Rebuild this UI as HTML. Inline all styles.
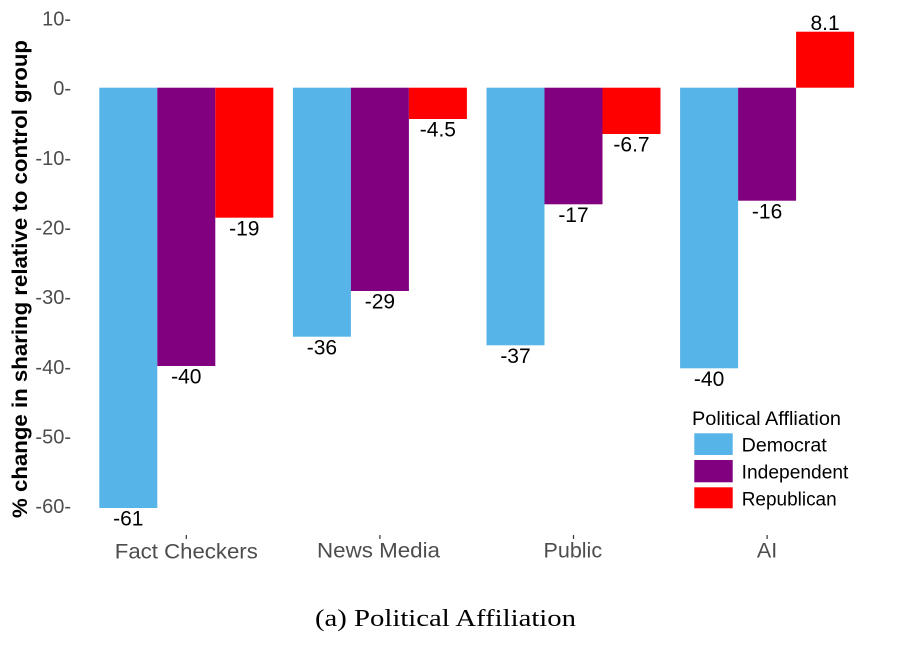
<!DOCTYPE html>
<html>
<head>
<meta charset="utf-8">
<style>
  html, body { margin: 0; padding: 0; background: #ffffff; }
  svg { display: block; }
</style>
</head>
<body>
<svg width="913" height="645" viewBox="0 0 913 645" xmlns="http://www.w3.org/2000/svg">
  <rect x="0" y="0" width="913" height="645" fill="#ffffff"/>

  <!-- Y axis title -->
  <text x="0" y="0" transform="translate(27,279) rotate(-90)" text-anchor="middle"
        font-family="Liberation Sans, Arial, sans-serif" font-weight="bold" font-size="21"
        fill="#000" textLength="478" lengthAdjust="spacingAndGlyphs">% change in sharing relative to control group</text>

  <!-- Y tick labels -->
  <g font-family="Liberation Sans, Arial, sans-serif" font-size="20" fill="#4d4d4d" text-anchor="end">
    <text x="71" y="25.5">10-</text>
    <text x="71" y="95.2">0-</text>
    <text x="71" y="164.9">-10-</text>
    <text x="71" y="234.5">-20-</text>
    <text x="71" y="304.2">-30-</text>
    <text x="71" y="373.9">-40-</text>
    <text x="71" y="443.5">-50-</text>
    <text x="71" y="513.2">-60-</text>
  </g>

  <!-- Bars -->
  <!-- Fact Checkers -->
  <rect x="99.3" y="87.7" width="58" height="420.3" fill="#56B4E9"/>
  <rect x="157.3" y="87.7" width="58" height="278.3" fill="#800080"/>
  <rect x="215.3" y="87.7" width="58" height="130" fill="#FF0000"/>
  <!-- News Media -->
  <rect x="292.9" y="87.7" width="58" height="249" fill="#56B4E9"/>
  <rect x="350.9" y="87.7" width="58" height="203.3" fill="#800080"/>
  <rect x="408.9" y="87.7" width="58" height="31.3" fill="#FF0000"/>
  <!-- Public -->
  <rect x="486.5" y="87.7" width="58" height="257.6" fill="#56B4E9"/>
  <rect x="544.5" y="87.7" width="58" height="116.6" fill="#800080"/>
  <rect x="602.5" y="87.7" width="58" height="46.3" fill="#FF0000"/>
  <!-- AI -->
  <rect x="680.1" y="87.7" width="58" height="280.6" fill="#56B4E9"/>
  <rect x="738.1" y="87.7" width="58" height="113" fill="#800080"/>
  <rect x="796.1" y="31.7" width="58" height="56" fill="#FF0000"/>

  <!-- Value labels -->
  <g font-family="Liberation Sans, Arial, sans-serif" font-size="21" fill="#000" text-anchor="middle">
    <text x="128.3" y="525.7">-61</text>
    <text x="186.3" y="383.7">-40</text>
    <text x="244.3" y="235.4">-19</text>

    <text x="321.9" y="354.4">-36</text>
    <text x="379.9" y="308.7">-29</text>
    <text x="437.9" y="136.5">-4.5</text>

    <text x="515.5" y="363">-37</text>
    <text x="573.5" y="222">-17</text>
    <text x="631.5" y="151.7">-6.7</text>

    <text x="709.1" y="386">-40</text>
    <text x="767.1" y="218.4">-16</text>
    <text x="825.1" y="30">8.1</text>
  </g>

  <!-- X ticks -->
  <g stroke="#333333" stroke-width="1.2">
    <line x1="186.3" y1="535" x2="186.3" y2="539"/>
    <line x1="379.9" y1="535" x2="379.9" y2="539"/>
    <line x1="573.5" y1="535" x2="573.5" y2="539"/>
    <line x1="767.1" y1="535" x2="767.1" y2="539"/>
  </g>

  <!-- X category labels -->
  <g font-family="Liberation Sans, Arial, sans-serif" font-size="21.5" fill="#4d4d4d" text-anchor="middle">
    <text x="186.3" y="558.5" textLength="143" lengthAdjust="spacingAndGlyphs">Fact Checkers</text>
    <text x="378.5" y="557.5" textLength="123" lengthAdjust="spacingAndGlyphs">News Media</text>
    <text x="572.8" y="557.5">Public</text>
    <text x="767.1" y="557.5">AI</text>
  </g>

  <!-- Legend -->
  <text x="692" y="425" font-family="Liberation Sans, Arial, sans-serif" font-size="19" fill="#000"
        textLength="149" lengthAdjust="spacingAndGlyphs">Political Affliation</text>
  <rect x="694.3" y="433.3" width="38.4" height="21.7" fill="#56B4E9"/>
  <rect x="694.3" y="460" width="38.4" height="22.3" fill="#800080"/>
  <rect x="694.3" y="487.3" width="38.4" height="21" fill="#FF0000"/>
  <g font-family="Liberation Sans, Arial, sans-serif" font-size="19" fill="#000">
    <text x="741.7" y="451.7" textLength="85" lengthAdjust="spacingAndGlyphs">Democrat</text>
    <text x="741.7" y="478.4" textLength="106.7" lengthAdjust="spacingAndGlyphs">Independent</text>
    <text x="741.7" y="505.7" textLength="95" lengthAdjust="spacingAndGlyphs">Republican</text>
  </g>

  <!-- Caption -->
  <text x="445.5" y="626" text-anchor="middle" font-family="Liberation Serif, Times New Roman, serif"
        font-size="24" fill="#000" textLength="261" lengthAdjust="spacingAndGlyphs">(a) Political Affiliation</text>
</svg>
</body>
</html>
